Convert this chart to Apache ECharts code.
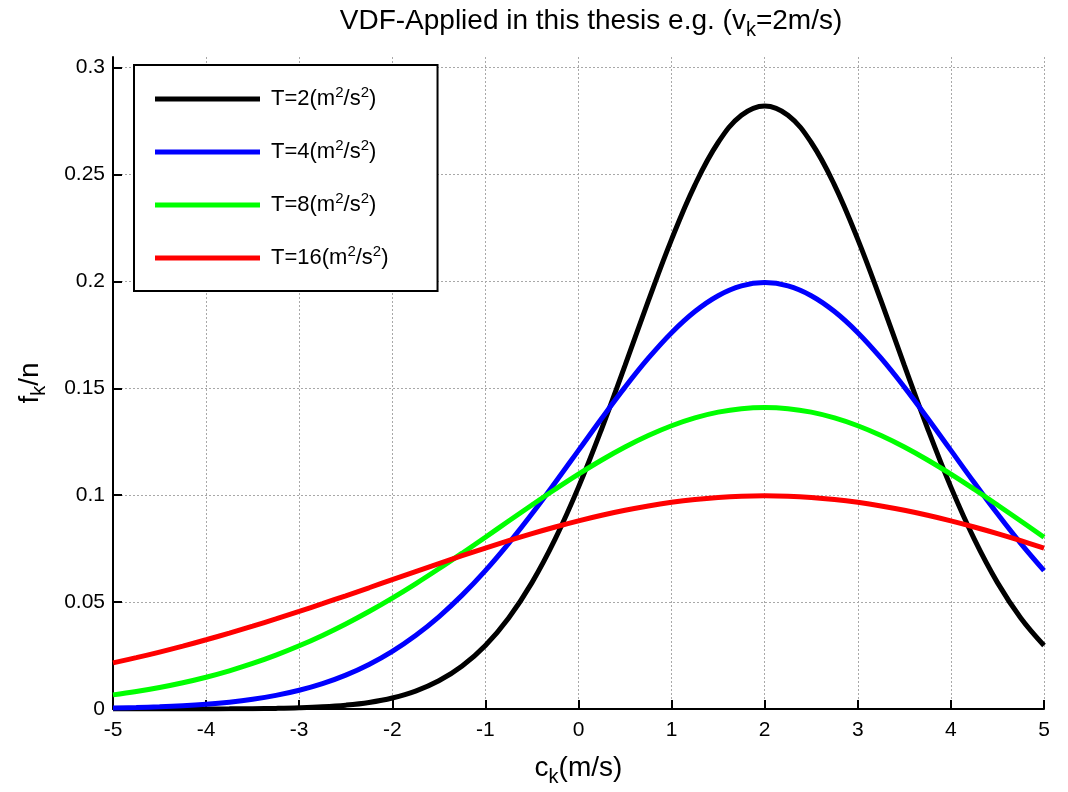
<!DOCTYPE html>
<html>
<head>
<meta charset="utf-8">
<script src="https://cdn.jsdelivr.net/npm/echarts@6/dist/echarts.min.js"></script>
<style>
  html, body { margin: 0; padding: 0; background: #fff; }
  #chart { width: 1068px; height: 792px; }
</style>
</head>
<body>
<div id="chart"></div>
<script>
// Speed samples c_k (m/s)
const speeds = [
  -5, -4.75, -4.5, -4.25, -4, -3.75, -3.5, -3.25, -3, -2.75, -2.5, -2.25, -2, -1.75, -1.5, -1.25, -1, -0.75, -0.5, -0.25,
  0, 0.25, 0.5, 0.75, 1, 1.25, 1.5, 1.75, 2, 2.25, 2.5, 2.75, 3, 3.25, 3.5, 3.75, 4, 4.25, 4.5, 4.75, 5
];

// f_k/n for each temperature T (m^2/s^2), bulk velocity v_k = 2 m/s
const fT2 = [
  0.0000014, 0.0000032, 0.0000073, 0.0000162, 0.000035, 0.0000725, 0.000146, 0.000287, 0.000544, 0.001001,
  0.00179, 0.003083, 0.00517, 0.008384, 0.01319, 0.020116, 0.02973, 0.042585, 0.05912, 0.079563,
  0.10378, 0.131183, 0.16073, 0.190881, 0.21969, 0.245086, 0.26500, 0.277718, 0.28209, 0.277718,
  0.26500, 0.245086, 0.21969, 0.190881, 0.16073, 0.131183, 0.10378, 0.079563, 0.05912, 0.042585, 0.02973
];
const fT4 = [
  0.000436, 0.000671, 0.001015, 0.001511, 0.002216, 0.003199, 0.004546, 0.006362, 0.008765, 0.011886,
  0.015868, 0.020860, 0.026995, 0.034393, 0.04314, 0.053268, 0.06476, 0.077506, 0.09132, 0.105936,
  0.12098, 0.136031, 0.15057, 0.164080, 0.17603, 0.185926, 0.19333, 0.197918, 0.19947, 0.197918,
  0.19333, 0.185926, 0.17603, 0.164080, 0.15057, 0.136031, 0.12098, 0.105936, 0.09132, 0.077506, 0.06476
];
const fT8 = [
  0.006597, 0.008178, 0.010058, 0.012277, 0.014866, 0.017862, 0.021292, 0.025189, 0.029565, 0.034429,
  0.039782, 0.045613, 0.051888, 0.058568, 0.065593, 0.072886, 0.080366, 0.087917, 0.095444, 0.102790,
  0.109848, 0.116477, 0.122544, 0.127919, 0.132501, 0.136169, 0.138860, 0.140498, 0.141047, 0.140498,
  0.138860, 0.136169, 0.132501, 0.127919, 0.122544, 0.116477, 0.109848, 0.102790, 0.095444, 0.087917, 0.080366
];
const fT16 = [
  0.02157, 0.024016, 0.02663, 0.029424, 0.03238, 0.035493, 0.03875, 0.042149, 0.04566, 0.049275,
  0.05297, 0.056714, 0.06049, 0.064266, 0.06802, 0.071695, 0.07528, 0.078746, 0.08204, 0.085142,
  0.08802, 0.090634, 0.09296, 0.094986, 0.09667, 0.097997, 0.09896, 0.099541, 0.09974, 0.099541,
  0.09896, 0.097997, 0.09667, 0.094986, 0.09296, 0.090634, 0.08802, 0.085142, 0.08204, 0.078746, 0.07528
];

const temps = ['2', '4', '8', '16'];
const curves = [fT2, fT4, fT8, fT16];
const colors = ['#000000', '#0000ff', '#00ff00', '#ff0000'];

const yTicks = [0, 0.05, 0.1, 0.15, 0.2, 0.25, 0.3];

const FONT = '"Liberation Sans", Arial, Helvetica, sans-serif';

const chart = echarts.init(document.getElementById('chart'), null, { renderer: 'canvas' });

const series = curves.map((vals, i) => ({
  name: 'T=' + temps[i],
  type: 'line',
  data: speeds.map((c, j) => [c, vals[j]]),
  smooth: 0.4,
  showSymbol: false,
  symbol: 'none',
  lineStyle: { color: colors[i], width: 5 },
  itemStyle: { color: colors[i] },
  emphasis: { disabled: true },
  animation: false
}));

// hide the grid line at the axis top (0.305), keep the rest dotted gray
const gridColors = yTicks.map(() => '#a8a8a8').concat(['transparent']);

chart.setOption({
  backgroundColor: '#ffffff',
  animation: false,
  title: {
    text: '{a|VDF-Applied in this thesis e.g. (v}{s|k}{a|=2m/s)}',
    left: 586,
    textAlign: 'center',
    top: -3,
    textStyle: {
      rich: {
        a: { fontFamily: FONT, fontSize: 28, color: '#000', fontWeight: 'normal' },
        s: { fontFamily: FONT, fontSize: 20, color: '#000', fontWeight: 'normal', padding: [18, 0, 0, 0] }
      }
    }
  },
  grid: { left: 113, right: 24, top: 57, bottom: 83, containLabel: false },
  legend: {
    orient: 'vertical',
    left: 134,
    top: 65,
    padding: [20, 49, 22, 21],
    itemGap: 28,
    itemWidth: 105,
    itemHeight: 5,
    icon: 'rect',
    backgroundColor: '#ffffff',
    borderColor: '#000000',
    borderWidth: 2,
    borderRadius: 0,
    data: series.map(s => s.name),
    formatter: name => '{n|' + name + '(m}{p|2}{n|/s}{p|2}{n|)}',
    textStyle: {
      padding: [0, 0, 0, 6],
      rich: {
        n: { fontFamily: FONT, fontSize: 22, color: '#000' },
        p: { fontFamily: FONT, fontSize: 15, color: '#000', padding: [0, 0, 13, 0] }
      }
    },
    selectedMode: false
  },
  xAxis: {
    type: 'value',
    min: -5,
    max: 5,
    interval: 1,
    name: '{a|c}{s|k}{a|(m/s)}',
    nameLocation: 'middle',
    nameGap: 40,
    nameTextStyle: {
      rich: {
        a: { fontFamily: FONT, fontSize: 28, color: '#000' },
        s: { fontFamily: FONT, fontSize: 20, color: '#000', padding: [18, 0, 0, 0] }
      }
    },
    axisLine: { show: true, onZero: false, lineStyle: { color: '#000', width: 2 } },
    axisTick: { show: true, inside: true, length: 9, lineStyle: { color: '#000', width: 2 } },
    axisLabel: { fontFamily: FONT, fontSize: 21, color: '#000', margin: 11 },
    splitLine: { show: true, lineStyle: { color: '#a8a8a8', width: 1, type: [2, 2] } }
  },
  yAxis: {
    type: 'value',
    min: 0,
    max: 0.305,
    interval: 0.05,
    name: '{a|f}{s|k}{a|/n}',
    nameLocation: 'middle',
    nameGap: 64,
    nameRotate: 90,
    nameTextStyle: {
      rich: {
        a: { fontFamily: FONT, fontSize: 28, color: '#000' },
        s: { fontFamily: FONT, fontSize: 20, color: '#000', padding: [18, 0, 0, 0] }
      }
    },
    axisLine: { show: true, onZero: false, lineStyle: { color: '#000', width: 2 } },
    axisTick: { show: true, inside: true, length: 9, customValues: yTicks, lineStyle: { color: '#000', width: 2 } },
    axisLabel: { fontFamily: FONT, fontSize: 21, color: '#000', margin: 8, customValues: yTicks, formatter: v => String(+v.toFixed(2)) },
    splitLine: { show: true, lineStyle: { color: gridColors, width: 1, type: [2, 2] } }
  },
  series: series
});
</script>
</body>
</html>
